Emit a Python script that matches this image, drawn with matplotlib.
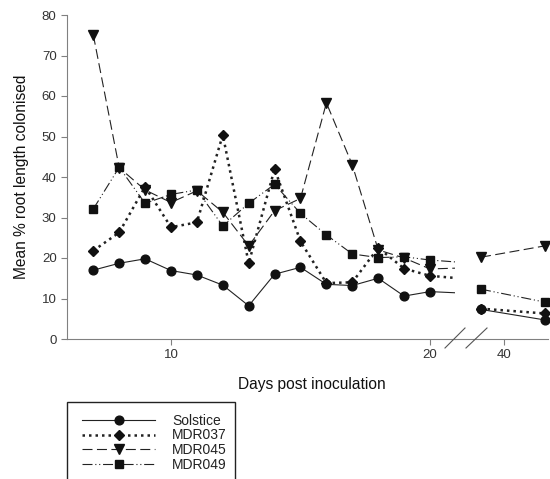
import matplotlib
matplotlib.use('Agg')
import matplotlib.pyplot as plt
from matplotlib.lines import Line2D
from matplotlib.patches import Rectangle

plt.rcParams['font.family'] = ['Liberation Sans', 'DejaVu Sans']

# days post inoculation (axis is broken between 21 and ~30)
days = [7, 8, 9, 10, 11, 12, 13, 14, 15, 16, 17, 18, 19, 20, 35, 49]

solstice = [17.0, 18.7, 19.8, 16.9, 15.8, 13.3, 8.2, 16.0, 17.7, 13.5, 13.2, 15.0, 10.6, 11.7, 7.3, 4.7]
mdr037 = [21.8, 26.3, 37.6, 27.6, 28.8, 50.4, 18.7, 42.0, 24.1, 13.8, 14.0, 22.5, 17.4, 15.6, 7.5, 6.3]
mdr045 = [75.1, 42.3, 36.8, 33.7, 36.6, 31.3, 23.0, 31.7, 34.7, 58.3, 43.0, 22.0, 20.0, 17.3, 20.2, 23.0]
mdr049 = [32.1, 42.4, 33.5, 35.7, 36.8, 27.9, 33.5, 38.2, 31.0, 25.7, 21.0, 20.1, 20.3, 19.5, 12.3, 9.1]

series = [
    ('Solstice', solstice, dict(linestyle='-', linewidth=0.8, marker='o', markersize=6.3)),
    ('MDR037', mdr037, dict(linestyle=(0, (1, 1.6)), linewidth=1.8, marker='D', markersize=5.3)),
    ('MDR045', mdr045, dict(linestyle=(0, (9, 4)), linewidth=0.8, marker='v', markersize=6.8)),
    ('MDR049', mdr049, dict(linestyle=(0, (9, 2.5, 1, 2.5, 1, 2.5)), linewidth=0.8, marker='s', markersize=5.8)),
]

W, H = 550, 479
fig = plt.figure(figsize=(W / 100, H / 100), dpi=100)

def fx(px):
    return px / W

def fy(py):
    return 1 - py / H

ax1 = fig.add_axes([fx(67), fy(339), fx(455) - fx(67), fy(15) - fy(339)])
ax2 = fig.add_axes([fx(455), fy(339), fx(548) - fx(455), fy(15) - fy(339)])

axis_col = '#808080'
text_col = '#333333'

handles = []
for name, vals, st in series:
    h, = ax1.plot(days, vals, color='#222222', markerfacecolor='#111111',
                  markeredgecolor='#111111', **st)
    ax2.plot(days[-2:], vals[-2:], color='#222222', markerfacecolor='#111111',
             markeredgecolor='#111111', clip_on=False, **st)
    handles.append(h)

ax1.set_xlim(5.985, 20.965)
ax2.set_xlim(29.31, 49.66)
for ax in (ax1, ax2):
    ax.set_ylim(0, 80)
    ax.spines['top'].set_visible(False)
    ax.spines['right'].set_visible(False)
    ax.spines['bottom'].set_color(axis_col)
    ax.spines['left'].set_color(axis_col)
    ax.tick_params(colors=axis_col, labelcolor=text_col, length=4, width=0.8, labelsize=9.5)
ax2.spines['left'].set_visible(False)
ax2.set_yticks([])
ax1.set_yticks(range(0, 81, 10))
ax1.set_xticks([10, 20])
ax2.set_xticks([40])

ax1.set_ylabel('Mean % root length colonised', fontsize=11.2, color='#111111', labelpad=9)
fig.text(fx(312), fy(384), 'Days post inoculation', fontsize=11.2, color='#111111',
         ha='center', va='center')

# axis break marks
for x0, x1 in [(445, 465), (466, 487)]:
    fig.add_artist(Line2D([fx(x0), fx(x1)], [fy(348), fy(328)], color='#555555',
                          linewidth=0.8, transform=fig.transFigure))

fig.add_artist(Rectangle((fx(67), fy(482)), fx(235) - fx(67), fy(402) - fy(482),
                         transform=fig.transFigure, fill=False, edgecolor='#222222',
                         linewidth=1.0, clip_on=False))
fig.legend(handles, [s[0] for s in series], loc='upper left',
           bbox_to_anchor=(fx(72), fy(404)), frameon=False, fontsize=10,
           handlelength=5.3, handletextpad=1.2, labelspacing=0.05,
           borderpad=0.2, labelcolor='#222222')

fig.savefig('out.png', dpi=100)
